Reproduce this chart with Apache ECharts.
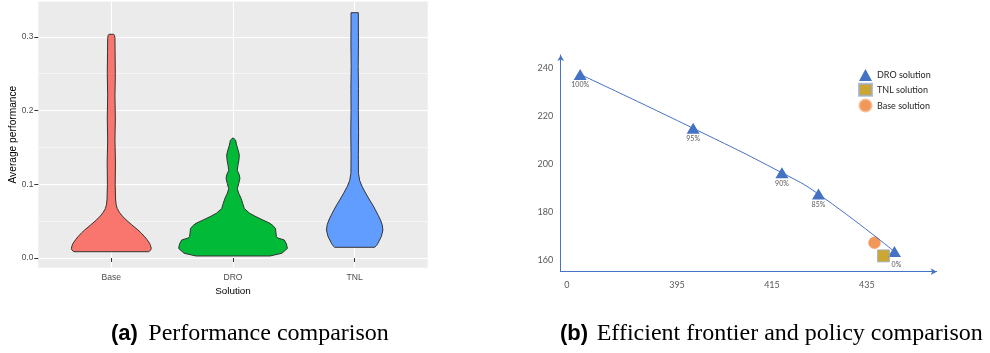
<!DOCTYPE html>
<html>
<head>
<meta charset="utf-8">
<script src="https://cdn.jsdelivr.net/npm/echarts@6/dist/echarts.min.js"></script>
<style>
html,body{margin:0;padding:0;background:#fff;}
#chart{width:990px;height:353px;}
</style>
</head>
<body>
<div id="chart"></div>
<script>
// ---------- Panel (a): violin plot data ----------
const categories = ['Base', 'DRO', 'TNL'];
const violinColors = ['#F8766D', '#00BA38', '#619CFF'];
// density profiles: y values and half-widths (in category units)
const baseY = [0.0085,0.011,0.0131,0.017,0.02,0.025,0.029,0.034,0.038,0.045,0.0515,0.057,0.062,0.067,0.072,0.08,0.10,0.13,0.16,0.19,0.22,0.25,0.28,0.298,0.302,0.3035];
const baseW = [0.308,0.325,0.328,0.322,0.314,0.293,0.273,0.245,0.219,0.168,0.123,0.090,0.066,0.049,0.040,0.035,0.032,0.034,0.030,0.033,0.030,0.033,0.031,0.030,0.026,0.020];
const droY = [0.0027,0.0064,0.013,0.019,0.0244,0.027,0.029,0.034,0.040,0.044,0.047,0.0515,0.056,0.0606,0.067,0.074,0.081,0.0877,0.094,0.101,0.108,0.1125,0.119,0.126,0.133,0.1396,0.146,0.153,0.160,0.163];
const droW = [0.304,0.402,0.447,0.439,0.422,0.369,0.357,0.353,0.349,0.328,0.304,0.246,0.189,0.137,0.093,0.080,0.066,0.047,0.035,0.047,0.057,0.052,0.035,0.041,0.049,0.052,0.043,0.030,0.021,0];
const tnlY = [0.0145,0.017,0.02,0.029,0.038,0.045,0.0515,0.058,0.065,0.072,0.0786,0.088,0.0966,0.105,0.115,0.14,0.17,0.2,0.23,0.26,0.29,0.32,0.3328];
const tnlW = [0.164,0.180,0.191,0.219,0.232,0.226,0.212,0.193,0.171,0.148,0.123,0.090,0.062,0.041,0.031,0.030,0.032,0.030,0.031,0.029,0.031,0.030,0.030];
const yTicksA = [0, 0.1, 0.2, 0.3];
const yMinorA = [0.05, 0.15, 0.25];
const xTicksA = [1, 2, 3];

// ---------- Panel (b): efficient frontier data ----------
const droX = [374.6, 398.4, 417.1, 424.8, 440.8];
const droV = [237.5, 215.0, 196.4, 187.5, 163.5];
const droLabels = ['100%', '95%', '90%', '85%', '0%'];
const tnlPoint = [438.5, 161.7];
const basePoint = [436.6, 167.2];
const xTickPosB = [371.8, 395, 415, 435];
const xTickLabelsB = ['0', '395', '415', '435'];
const yTicksB = [160, 180, 200, 220, 240];
const legendNames = ['DRO solution', 'TNL solution', 'Base solution'];

const profiles = [[baseY, baseW], [droY, droW], [tnlY, tnlW]];

const chart = echarts.init(document.getElementById('chart'), null, {renderer: 'canvas'});

const droData = droX.map((x, i) => {
  const item = {value: [x, droV[i]]};
  if (i === droX.length - 1) item.label = {distance: 4, offset: [2, 0]};
  return item;
});

const option = {
  animation: false,
  backgroundColor: '#ffffff',
  grid: [
    {left: 38.3, top: 1.5, width: 389.4, height: 266.2, show: true, backgroundColor: '#EBEBEB', borderWidth: 0, containLabel: false, outerBoundsMode: 'none'},
    {left: 560.7, top: 55, width: 376, height: 216.7, show: false, containLabel: false, outerBoundsMode: 'none'}
  ],
  xAxis: [
    {
      gridIndex: 0, type: 'value', min: 0.4, max: 3.6,
      axisLine: {show: false},
      axisTick: {show: true, customValues: xTicksA, length: 4, lineStyle: {color: '#333333', width: 1}},
      axisLabel: {customValues: xTicksA, formatter: v => categories[Math.round(v) - 1], fontSize: 8.6, color: '#4D4D4D', margin: 5, fontFamily: 'Liberation Sans'},
      splitLine: {show: true, lineStyle: {color: '#ffffff', width: 1.1}},
      name: 'Solution', nameLocation: 'middle', nameGap: 15,
      nameTextStyle: {fontSize: 9.9, color: '#000000', fontFamily: 'Liberation Sans'}
    },
    {
      gridIndex: 1, type: 'value', min: 370.5, max: 449.7,
      axisLine: {show: true, symbol: ['none', 'arrow'], symbolSize: [5, 6], lineStyle: {color: '#4472C4', width: 1}},
      axisTick: {show: false, customValues: xTickPosB},
      axisLabel: {customValues: xTickPosB, formatter: v => xTickLabelsB[xTickPosB.indexOf(v)], fontSize: 9, color: '#595959', margin: 9, fontFamily: 'Lato'},
      splitLine: {show: false}
    }
  ],
  yAxis: [
    {
      gridIndex: 0, type: 'value', min: -0.0132, max: 0.348,
      axisLine: {show: false},
      axisTick: {show: true, customValues: yTicksA, length: 4, lineStyle: {color: '#333333', width: 1}},
      axisLabel: {customValues: yTicksA, formatter: v => v.toFixed(1), fontSize: 8.4, color: '#4D4D4D', margin: 5, fontFamily: 'Liberation Sans'},
      splitLine: {show: true, lineStyle: {color: '#ffffff', width: 1.1}},
      name: 'Average performance', nameLocation: 'middle', nameGap: 20,
      nameTextStyle: {fontSize: 10.2, color: '#000000', fontFamily: 'Liberation Sans'}
    },
    {
      gridIndex: 0, type: 'value', position: 'right', min: -0.0132, max: 0.348,
      axisLine: {show: false},
      axisTick: {show: false, customValues: yMinorA},
      axisLabel: {show: false, customValues: yMinorA},
      splitLine: {show: true, lineStyle: {color: '#ffffff', width: 0.55}}
    },
    {
      gridIndex: 1, type: 'value', min: 155.1, max: 245.6,
      axisLine: {show: true, symbol: ['none', 'arrow'], symbolSize: [5, 6], lineStyle: {color: '#4472C4', width: 1}},
      axisTick: {show: false, customValues: yTicksB},
      axisLabel: {customValues: yTicksB, fontSize: 9, color: '#595959', margin: 7.5, fontFamily: 'Lato'},
      splitLine: {show: false}
    }
  ],
  legend: {
    orient: 'vertical', left: 853, top: 64, padding: 5,
    itemWidth: 13, itemHeight: 12, itemGap: 1.8,
    selectedMode: false,
    textStyle: {fontSize: 9, color: '#262626', fontFamily: 'Lato'},
    data: [
      {name: legendNames[0], icon: 'triangle'},
      {name: legendNames[1], icon: 'rect'},
      {name: legendNames[2], icon: 'circle'}
    ]
  },
  series: [
    {
      type: 'custom', xAxisIndex: 0, yAxisIndex: 0,
      data: categories.map((c, i) => [i + 1, 0]),
      encode: {x: 0, y: 1},
      renderItem: function (params, api) {
        const i = params.dataIndex;
        const ys = profiles[i][0], ws = profiles[i][1];
        const c = i + 1;
        const pts = [];
        for (let k = 0; k < ys.length; k++) pts.push(api.coord([c - ws[k], ys[k]]));
        for (let k = ys.length - 1; k >= 0; k--) pts.push(api.coord([c + ws[k], ys[k]]));
        return {
          type: 'polygon',
          shape: {points: pts},
          style: {fill: violinColors[i], stroke: '#333333', lineWidth: 1}
        };
      },
      z: 2
    },
    {
      name: legendNames[0], type: 'line', xAxisIndex: 1, yAxisIndex: 2,
      data: droData,
      smooth: 0.5,
      symbol: 'triangle', symbolSize: [13, 11],
      itemStyle: {color: '#4472C4'},
      lineStyle: {color: '#4472C4', width: 1},
      label: {show: true, position: 'bottom', distance: 1.5, formatter: p => droLabels[p.dataIndex], fontSize: 7, color: '#595959', fontFamily: 'Lato'},
      z: 3
    },
    {
      name: legendNames[1], type: 'scatter', xAxisIndex: 1, yAxisIndex: 2,
      data: [tnlPoint],
      symbol: 'rect', symbolSize: 12,
      itemStyle: {color: '#BF9000', borderColor: '#9DAFD4', borderWidth: 1},
      z: 4
    },
    {
      name: legendNames[2], type: 'scatter', xAxisIndex: 1, yAxisIndex: 2,
      data: [basePoint],
      symbol: 'circle', symbolSize: 12,
      itemStyle: {color: '#ED7D31', borderColor: '#F4B183', borderWidth: 0.8},
      z: 2
    }
  ],
  graphic: [
    {type: 'text', x: 111, y: 334, style: {text: '(a)', font: 'bold 22px "Liberation Sans"', fill: '#000', align: 'left', verticalAlign: 'middle'}},
    {type: 'text', x: 148.3, y: 333.5, style: {text: 'Performance comparison', font: '24px "Liberation Serif"', fill: '#000', align: 'left', verticalAlign: 'middle'}},
    {type: 'text', x: 560, y: 334, style: {text: '(b)', font: 'bold 22px "Liberation Sans"', fill: '#000', align: 'left', verticalAlign: 'middle'}},
    {type: 'text', x: 596.7, y: 333.5, style: {text: 'Efficient frontier and policy comparison', font: '24px "Liberation Serif"', fill: '#000', align: 'left', verticalAlign: 'middle'}}
  ]
};

chart.setOption(option);
</script>
</body>
</html>
